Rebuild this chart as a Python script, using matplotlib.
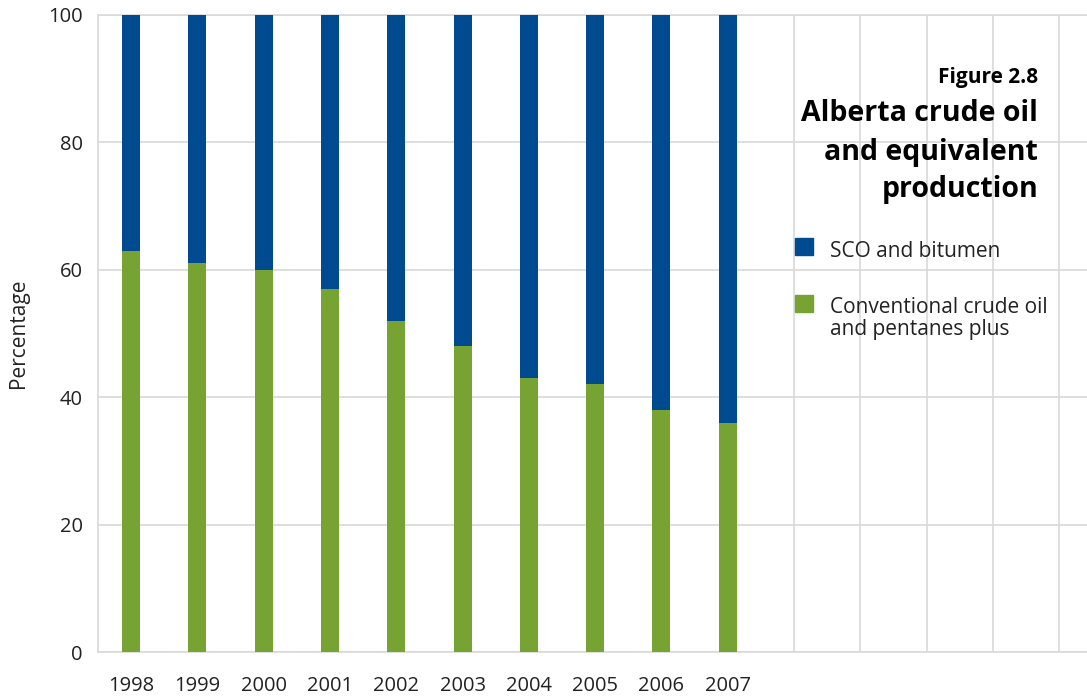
import numpy as np
import matplotlib
matplotlib.use('Agg')
from matplotlib import pyplot as plt
from matplotlib.patches import Rectangle

plt.rcParams['font.family'] = ['Open Sans', 'DejaVu Sans']

years = ['1998', '1999', '2000', '2001', '2002', '2003', '2004', '2005', '2006', '2007']
conventional = [63, 61, 60, 57, 52, 48, 43, 42, 38, 36]      # Conventional crude oil and pentanes plus
sco = [37, 39, 40, 43, 48, 52, 57, 58, 62, 64]                # SCO and bitumen
empty_slots = [10, 11, 12, 13, 14]                           # grid positions past 2007

blue = '#004a8f'
green = '#77a332'
grid_c = '#d9d9d9'
txt = '#222222'

W, H = 1087, 700
fig = plt.figure(figsize=(W / 100, H / 100), dpi=100)
ax = fig.add_axes([98 / W, 48 / H, (W - 98) / W, (652 - 15) / H])

x = np.arange(len(years))
w = 0.27
ax.bar(x, conventional, w, color=green, zorder=3)
ax.bar(x, sco, w, bottom=conventional, color=blue, zorder=3)

ax.set_xlim(-0.5, 14.42)
ax.set_ylim(0, 100)
ax.set_yticks([0, 20, 40, 60, 80, 100])
ax.set_xticks(x)
ax.set_xticklabels(years)
ax.tick_params(length=0, labelsize=14.5, colors=txt)
ax.tick_params(axis='x', pad=17)
ax.tick_params(axis='y', pad=11)
ax.yaxis.grid(True, color=grid_c, lw=1.2, zorder=0)
for s in empty_slots:
    ax.axvline(s, color=grid_c, lw=1.2, zorder=0)
for side in ['left', 'bottom', 'top']:
    ax.spines[side].set_color(grid_c)
    ax.spines[side].set_linewidth(1.2)
ax.spines['right'].set_visible(False)
ax.set_ylabel('Percentage', fontsize=15, color=txt, labelpad=14)

def fx(px):
    return px / W

def fy(py):
    return 1 - py / H

# title block, right aligned
fig.text(fx(1038), fy(83), 'Figure 2.8', ha='right', va='baseline',
         fontsize=15, fontweight='bold', color='black')
title_lines = ['Alberta crude oil', 'and equivalent', 'production']
for line, base in zip(title_lines, [121, 160, 197]):
    fig.text(fx(1038), fy(base), line, ha='right', va='baseline',
             fontsize=20.5, fontweight='bold', color='black')

# legend
fig.patches.append(Rectangle((fx(795), fy(255)), 18 / W, 17 / H,
                             transform=fig.transFigure, color=blue, zorder=5))
fig.patches.append(Rectangle((fx(795), fy(312)), 18 / W, 17 / H,
                             transform=fig.transFigure, color=green, zorder=5))
fig.text(fx(830), fy(257), 'SCO and bitumen', ha='left', va='baseline',
         fontsize=15, color=txt)
fig.text(fx(830), fy(313), 'Conventional crude oil', ha='left', va='baseline',
         fontsize=15, color=txt)
fig.text(fx(830), fy(335), 'and pentanes plus', ha='left', va='baseline',
         fontsize=15, color=txt)

fig.savefig('out.png', dpi=100, facecolor='white')
